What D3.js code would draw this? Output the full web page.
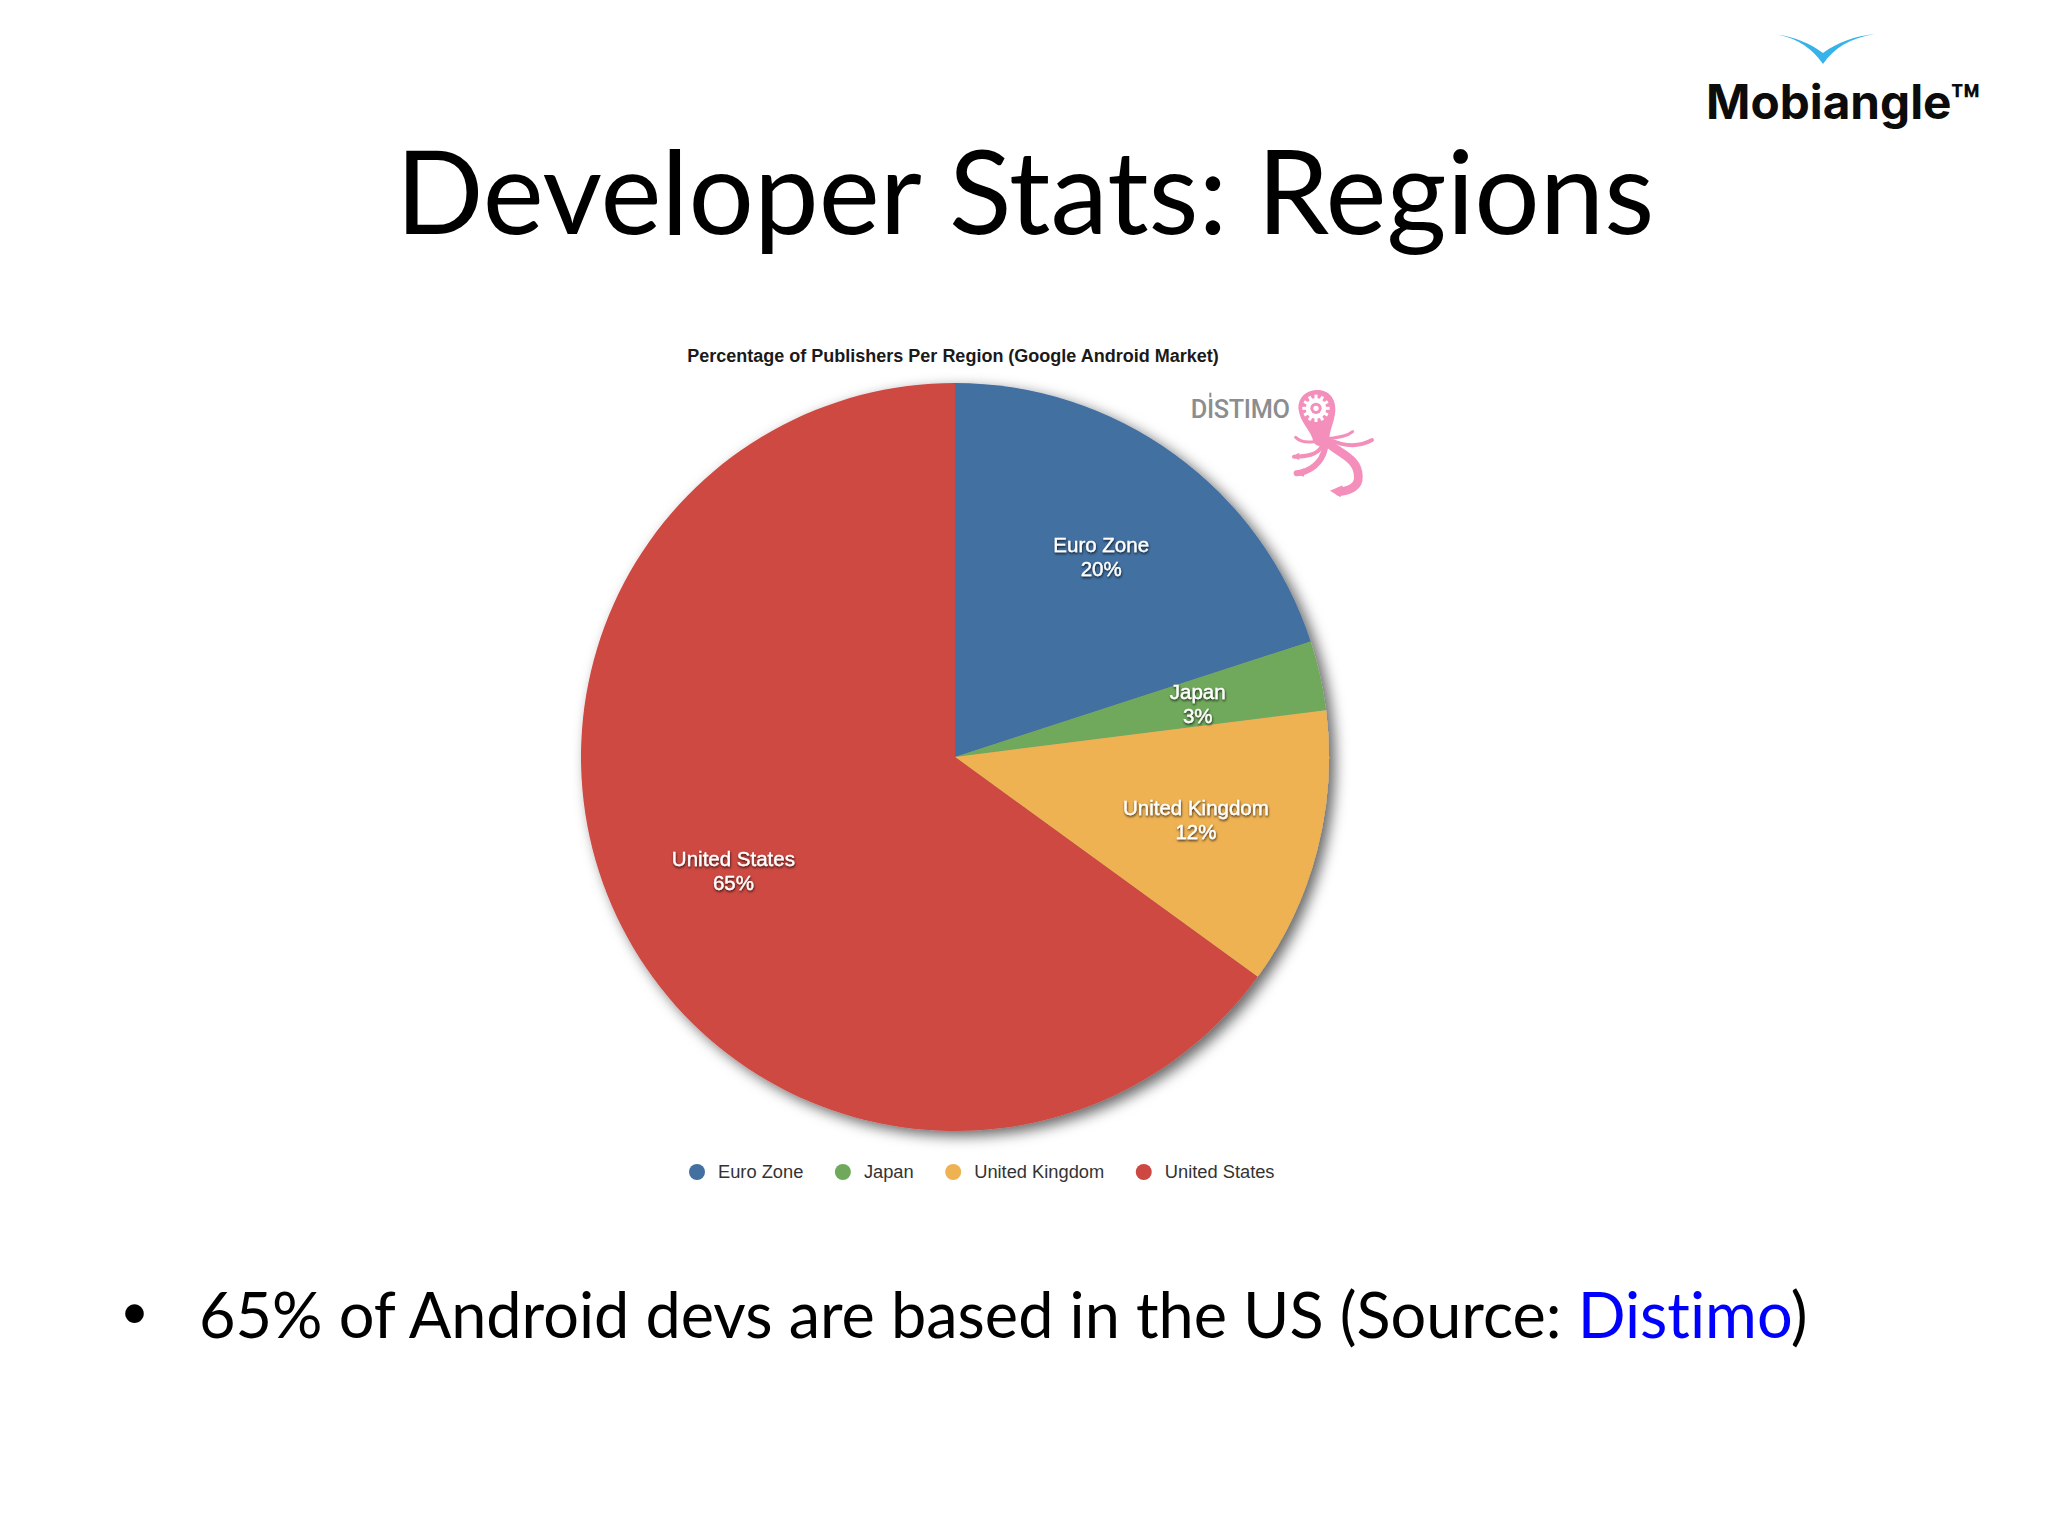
<!DOCTYPE html>
<html>
<head>
<meta charset="utf-8">
<script src="https://cdn.jsdelivr.net/npm/d3@7"></script>
<style>
  html, body { margin: 0; padding: 0; background: #fff; }
  svg { display: block; }
</style>
</head>
<body>
<div id="chart"></div>
<script>
// Slide: pie of publishers per region
const regions = ['Euro Zone', 'Japan', 'United Kingdom', 'United States'];
const shares = [20, 3, 12, 65];
const sliceColors = ['#436fa1', '#70a95c', '#eeb253', '#cd4842'];

const CONFIG = {
  width: 2048,
  height: 1536,
  cx: 955,
  cy: 757,
  radius: 374,
};

const svg = d3.select('#chart')
  .append('svg')
  .attr('width', CONFIG.width)
  .attr('height', CONFIG.height);

const defs = svg.append('defs');

defs.append('filter')
  .attr('id', 'pieShadow')
  .attr('x', '-10%').attr('y', '-10%').attr('width', '120%').attr('height', '120%')
  .append('feDropShadow')
  .attr('dx', 6).attr('dy', 5).attr('stdDeviation', 7)
  .attr('flood-color', '#000').attr('flood-opacity', 0.6);

defs.append('filter')
  .attr('id', 'labelShadow')
  .attr('x', '-10%').attr('y', '-20%').attr('width', '120%').attr('height', '150%')
  .append('feDropShadow')
  .attr('dx', 0.5).attr('dy', 1.5).attr('stdDeviation', 1)
  .attr('flood-color', '#000').attr('flood-opacity', 0.8);

// slide heading
svg.append('text')
  .attr('x', 1025).attr('y', 234)
  .attr('text-anchor', 'middle')
  .attr('font-family', 'Lato')
  .attr('font-size', 115.5)
  .attr('fill', '#000')
  .text('Developer Stats: Regions');

// Mobiangle logo
const logo = svg.append('g');
logo.append('path')
  .attr('d', 'M1772 34 C1795 36 1812 48 1823 64 C1834 48 1850 38 1875 34 C1855 36 1838 42 1823 53 C1808 42 1792 36 1772 34 Z')
  .attr('fill', '#38b3ea');
logo.append('text')
  .attr('x', 1706).attr('y', 119)
  .attr('font-family', 'Inter')
  .attr('font-weight', 700)
  .attr('font-size', 47.7)
  .attr('fill', '#0c0c0c')
  .text('Mobiangle™');

// chart title
svg.append('text')
  .attr('x', 953).attr('y', 362)
  .attr('text-anchor', 'middle')
  .attr('font-family', 'Liberation Sans')
  .attr('font-weight', 700)
  .attr('font-size', 18)
  .attr('fill', '#1a1a1a')
  .text('Percentage of Publishers Per Region (Google Android Market)');

// Distimo mark
const distimo = svg.append('g').attr('transform', 'translate(1150,340) scale(0.3333)');
const pink = '#f48fbb';
distimo.append('text')
  .attr('x', 122).attr('y', 235)
  .attr('font-family', 'Roboto')
  .attr('font-weight', 500)
  .attr('font-size', 76)
  .attr('fill', '#8b8d8f')
  .attr('textLength', 298)
  .attr('lengthAdjust', 'spacing')
  .text('DISTIMO');
distimo.append('path')
  .attr('d', 'M178 158 L184 158 L184 172 L178 172 Z')
  .attr('fill', '#8b8d8f');
distimo.append('path')
  .attr('d', 'M445 205 C445 170 470 150 503 150 C538 150 558 178 556 212 C554 245 540 265 538 295 C536 325 500 325 490 305 C486 275 450 250 445 205 Z')
  .attr('fill', pink);
const tentacles = [
  ['M525 300 C560 340 625 350 625 410 C627 440 600 452 568 455', 26],
  ['M515 320 C500 345 470 350 432 350', 12],
  ['M525 325 C515 370 480 395 440 400', 18],
  ['M492 305 C470 308 450 305 437 292', 9],
  ['M540 295 C565 292 590 290 608 275', 9],
  ['M540 300 C590 322 630 320 666 300', 12],
];
distimo.selectAll('path.arm')
  .data(tentacles)
  .join('path')
  .attr('class', 'arm')
  .attr('d', d => d[0])
  .attr('fill', 'none')
  .attr('stroke', pink)
  .attr('stroke-width', d => d[1])
  .attr('stroke-linecap', 'round');
distimo.append('path')
  .attr('d', 'M540 452 L578 436 L572 472 Z M425 350 L448 338 L448 360 Z M430 400 L462 385 L462 410 Z')
  .attr('fill', pink);
// gear on the head
const gearTeeth = d3.range(12);
distimo.selectAll('line.tooth')
  .data(gearTeeth)
  .join('line')
  .attr('class', 'tooth')
  .attr('x1', 498).attr('y1', 205)
  .attr('x2', d => 498 + 41 * Math.cos(d * Math.PI / 6))
  .attr('y2', d => 205 + 41 * Math.sin(d * Math.PI / 6))
  .attr('stroke', '#fff').attr('stroke-width', 9);
distimo.append('circle').attr('cx', 498).attr('cy', 205).attr('r', 31).attr('fill', '#fff');
distimo.append('circle').attr('cx', 498).attr('cy', 205).attr('r', 17).attr('fill', pink);
distimo.append('circle').attr('cx', 498).attr('cy', 205).attr('r', 8).attr('fill', '#fff');

// pie
const pie = d3.pie().sort(null).value(d => d)(shares);
const arc = d3.arc().innerRadius(0).outerRadius(CONFIG.radius);
const labelArc = d3.arc()
  .innerRadius(CONFIG.radius * 0.665)
  .outerRadius(CONFIG.radius * 0.665);

const pieGroup = svg.append('g')
  .attr('transform', `translate(${CONFIG.cx},${CONFIG.cy})`);

pieGroup.append('g')
  .attr('filter', 'url(#pieShadow)')
  .selectAll('path')
  .data(pie)
  .join('path')
  .attr('d', arc)
  .attr('fill', (d, i) => sliceColors[i]);

const labels = pieGroup.selectAll('g.label')
  .data(pie)
  .join('g')
  .attr('class', 'label')
  .attr('transform', d => `translate(${labelArc.centroid(d)})`)
  .attr('filter', 'url(#labelShadow)')
  .attr('text-anchor', 'middle')
  .attr('font-family', 'Liberation Sans')
  .attr('font-size', 20.5)
  .attr('fill', '#fff')
  .attr('stroke', '#fff')
  .attr('stroke-width', 0.3);

labels.append('text')
  .attr('y', -4)
  .text((d, i) => regions[i]);

labels.append('text')
  .attr('y', 20)
  .text(d => d.data + '%');

// legend, laid out left to right
const legend = svg.append('g');
let legendX = 697;
regions.forEach((name, i) => {
  legend.append('circle')
    .attr('cx', legendX).attr('cy', 1172).attr('r', 8)
    .attr('fill', sliceColors[i]);
  const label = legend.append('text')
    .attr('x', legendX + 21).attr('y', 1178)
    .attr('font-family', 'Liberation Sans')
    .attr('font-size', 18.3)
    .attr('fill', '#333')
    .text(name);
  legendX += 21 + label.node().getComputedTextLength() + 39.5;
});

// bullet line
svg.append('text')
  .attr('x', 120).attr('y', 1329)
  .attr('font-family', 'Lato')
  .attr('font-size', 50)
  .attr('fill', '#000')
  .text('•');

const bullet = svg.append('text')
  .attr('x', 199).attr('y', 1338)
  .attr('font-family', 'Lato')
  .attr('font-size', 63)
  .attr('fill', '#000')
  .style('font-variant-ligatures', 'none');
bullet.append('tspan').text('65% of Android devs are based in the US (Source: ');
bullet.append('tspan').attr('fill', '#0000ff').text('Distimo');
bullet.append('tspan').text(')');
</script>
</body>
</html>
